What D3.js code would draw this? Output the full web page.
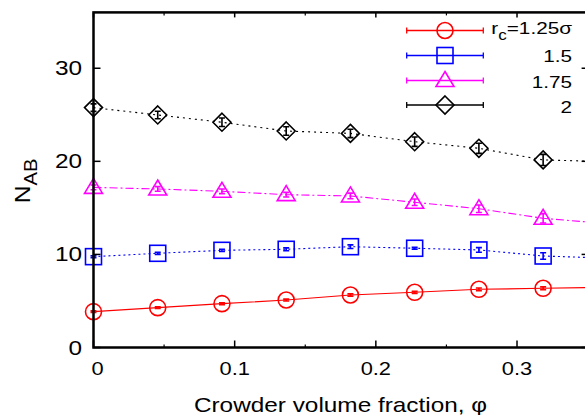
<!DOCTYPE html>
<html><head><meta charset="utf-8">
<script src="https://cdn.jsdelivr.net/npm/d3@7"></script>
<style>body{margin:0;background:#fff} svg{display:block} text{font-family:"Liberation Sans",Arial,sans-serif;fill:#000}</style>
</head><body><svg id="c" width="585" height="415"></svg>
<script>
// ---- data ----
const phi = [0, 0.0455, 0.091, 0.1365, 0.182, 0.2275, 0.273, 0.3185, 0.364];
const legendLabels = ["1.25σ", "1.5", "1.75", "2"];
const nRc125 = [3.85, 4.28, 4.71, 5.10, 5.64, 5.93, 6.25, 6.36, 6.47];
const eRc125 = [0.08, 0.08, 0.1, 0.1, 0.12, 0.12, 0.15, 0.15, 0.15];
const nRc15  = [9.76, 10.12, 10.44, 10.55, 10.83, 10.66, 10.48, 9.83, 9.6];
const eRc15  = [0.1, 0.12, 0.12, 0.15, 0.2, 0.1, 0.25, 0.35, 0.35];
const nRc175 = [17.2, 17.03, 16.78, 16.42, 16.28, 15.6, 14.91, 13.88, 13.3];
const eRc175 = [0.25, 0.25, 0.25, 0.25, 0.3, 0.35, 0.4, 0.5, 0.5];
const nRc2   = [25.77, 24.98, 24.2, 23.26, 23.0, 22.11, 21.4, 20.15, 19.97];
const eRc2   = [0.4, 0.4, 0.45, 0.45, 0.45, 0.5, 0.55, 0.6, 0.6];
const xTicks = [0, 0.1, 0.2, 0.3];
const xMinorTicks = [0.05, 0.15, 0.25, 0.35];
const yTicks = [0, 10, 20, 30];

const series = [
  {vals: nRc125, errs: eRc125, color: "#ff0000", dash: null, shape: "circle"},
  {vals: nRc15,  errs: eRc15,  color: "#0000ff", dash: "2,3", shape: "square"},
  {vals: nRc175, errs: eRc175, color: "#ff00ff", dash: "8,3,2,3", shape: "triangle"},
  {vals: nRc2,   errs: eRc2,   color: "#000000", dash: "2,4", shape: "diamond"}
];

const svg = d3.select("#c");
const L = 93.5, R = 587.6, T = 12.4, B = 347.5;
const x = d3.scaleLinear().domain([0, 0.35]).range([L, R]);
const y = d3.scaleLinear().domain([0, 36]).range([B, T]);

svg.append("defs").append("clipPath").attr("id", "clip")
  .append("rect").attr("x", L - 12).attr("y", T).attr("width", R - L + 12).attr("height", B - T + 12);

// text placed at (px,py), horizontally stretched by sx (reference glyphs are wide)
function label(parent, px, py, anchor, size, sx) {
  return parent.append("g").attr("transform", `translate(${px},${py}) scale(${sx},1)`)
    .append("text").attr("text-anchor", anchor).style("font-size", size + "px");
}

function marker(g, shape, color) {
  const s = 8;
  let p;
  if (shape === "circle") p = g.append("circle").attr("r", s);
  else if (shape === "square") p = g.append("rect").attr("x", -s).attr("y", -s).attr("width", 2*s).attr("height", 2*s);
  else if (shape === "triangle") p = g.append("path").attr("d", `M0,${-s-1}L${s+1},${s-2}L${-s-1},${s-2}Z`);
  else p = g.append("path").attr("d", `M0,${-s-1}L${s+1},0L0,${s+1}L${-s-1},0Z`);
  p.attr("fill", "none").attr("stroke", color).attr("stroke-width", 1.6);
}

const plot = svg.append("g").attr("clip-path", "url(#clip)");
series.forEach(s => {
  const pts = phi.map((p, i) => ({p, v: s.vals[i], e: s.errs[i]}));
  plot.append("path").datum(pts)
    .attr("d", d3.line().x(d => x(d.p)).y(d => y(d.v)))
    .attr("fill", "none").attr("stroke", s.color).attr("stroke-width", 1.1)
    .attr("stroke-dasharray", s.dash);
  pts.forEach(d => {
    const g = plot.append("g").attr("transform", `translate(${x(d.p)},${y(d.v)})`);
    marker(g, s.shape, s.color);
    const e = y(d.v - d.e) - y(d.v);
    g.append("path").attr("d", `M0,${-e}V${e}M-3,${-e}H3M-3,${e}H3`)
      .attr("stroke", s.color).attr("stroke-width", 1.6).attr("fill", "none");
  });
});

// frame
const ax = svg.append("g").attr("stroke", "#000").attr("fill", "none");
ax.append("rect").attr("x", L).attr("y", T).attr("width", R - L).attr("height", B - T).attr("stroke-width", 2.5);
xTicks.forEach(t => {
  ax.append("line").attr("x1", x(t)).attr("x2", x(t)).attr("y1", B).attr("y2", B - 7).attr("stroke-width", 1.5);
  ax.append("line").attr("x1", x(t)).attr("x2", x(t)).attr("y1", T).attr("y2", T + 5).attr("stroke-width", 1.5);
});
xMinorTicks.forEach(t => {
  ax.append("line").attr("x1", x(t)).attr("x2", x(t)).attr("y1", B).attr("y2", B - 3).attr("stroke-width", 1.2);
  ax.append("line").attr("x1", x(t)).attr("x2", x(t)).attr("y1", T).attr("y2", T + 3).attr("stroke-width", 1.2);
});
yTicks.forEach(t => {
  ax.append("line").attr("x1", L).attr("x2", L + 7).attr("y1", y(t)).attr("y2", y(t)).attr("stroke-width", 1.5);
  ax.append("line").attr("x1", R).attr("x2", R - 6).attr("y1", y(t)).attr("y2", y(t)).attr("stroke-width", 1.5);
});

// tick labels
xTicks.forEach(t => {
  label(svg, x(t) + (t === 0 ? 4 : 0), 375, "middle", 19, 1.15).text(t === 0 ? "0" : d3.format(".1f")(t));
});
yTicks.forEach(t => {
  label(svg, 82, y(t), "end", 19.5, 1.25).attr("dy", "0.36em").text(t);
});

// axis titles
label(svg, 340.5, 411.5, "middle", 21, 1.16).text("Crowder volume fraction, φ");
const yl = svg.append("text").attr("transform", "translate(29.5,181) rotate(-90) scale(1.12,1)").attr("text-anchor", "middle");
yl.append("tspan").style("font-size", "22px").text("N");
yl.append("tspan").style("font-size", "18px").attr("dy", 7).text("AB");

// legend
const legY = [30.5, 55.5, 80.5, 105];
const legBase = [34.3, 61.7, 87.7, 112.7];
series.forEach((s, i) => {
  const g = svg.append("g");
  g.append("path").attr("d", `M406.7,${legY[i]}H483.3M406.7,${legY[i]-3}V${legY[i]+3}M483.3,${legY[i]-3}V${legY[i]+3}`)
    .attr("stroke", s.color).attr("stroke-width", 1.3).attr("fill", "none");
  const m = g.append("g").attr("transform", `translate(445,${legY[i]})`);
  marker(m, s.shape, s.color);
  const t = label(g, 572, legBase[i], "end", 17, 1.22);
  if (i === 0) {
    t.append("tspan").text("r");
    t.append("tspan").attr("dy", 6).style("font-size", "14px").text("c");
    t.append("tspan").attr("dy", -6).text("=" + legendLabels[i]);
  } else t.text(legendLabels[i]);
});
</script></body></html>
